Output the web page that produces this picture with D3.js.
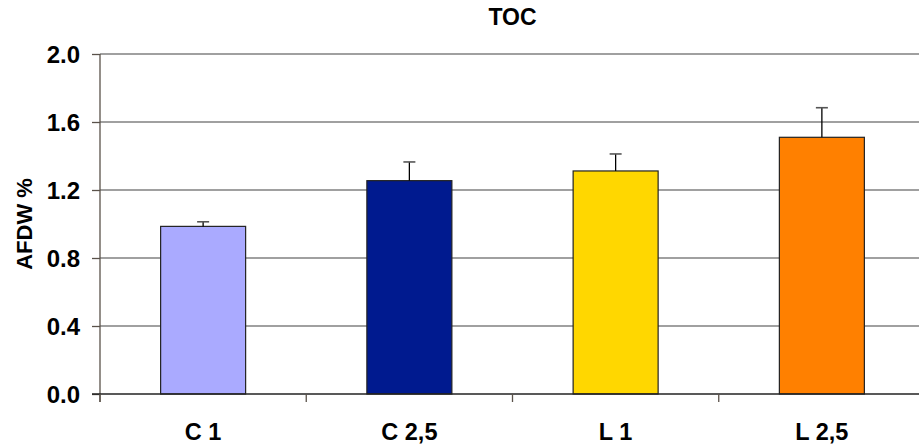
<!DOCTYPE html>
<html><head><meta charset="utf-8">
<script src="https://cdn.jsdelivr.net/npm/d3@7"></script>
<style>body{margin:0;background:#fff}svg{display:block}text{font-family:Arial,"Liberation Sans",sans-serif;font-weight:bold;fill:#000}</style>
</head><body><svg id="c" width="919" height="447"></svg>
<script>
const categories = ["C 1", "C 2,5", "L 1", "L 2,5"];
const values = [0.986, 1.255, 1.312, 1.51];
const errors = [0.027, 0.11, 0.10, 0.174];
const colors = ["#AAAAFF", "#001A8F", "#FFD700", "#FF8000"];
const yTicks = [0, 0.4, 0.8, 1.2, 1.6, 2.0];

const svg = d3.select("#c");
const m = {left: 100, right: 925, top: 54, bottom: 394};
const x = d3.scaleBand().domain(categories).range([m.left, m.right]).paddingInner(0).paddingOuter(0);
const y = d3.scaleLinear().domain([0, 2]).range([m.bottom, m.top]);

// gridlines
svg.append("g").selectAll("line").data(yTicks.filter(d => d > 0)).join("line")
  .attr("x1", m.left).attr("x2", m.right).attr("y1", d => y(d)).attr("y2", d => y(d))
  .attr("stroke", "#808080").attr("stroke-width", 1.3);

// y axis
const ya = svg.append("g").attr("transform", `translate(${m.left},0)`)
  .call(d3.axisLeft(y).tickValues(yTicks).tickFormat(d3.format(".1f")).tickSize(8).tickPadding(12));
ya.select(".domain").attr("stroke", "#5a524a").attr("stroke-width", 1.3).attr("d", `M0,${m.top}V${m.bottom + 8}`);
ya.selectAll(".tick line").attr("stroke", "#5a524a").attr("stroke-width", 1.3);
ya.selectAll(".tick text").style("font-size", "24px").attr("dy", "0.36em");

// bars
const bw = 85;
svg.append("g").selectAll("rect").data(categories).join("rect")
  .attr("x", d => x(d) + x.bandwidth() / 2 - bw / 2)
  .attr("width", bw)
  .attr("y", (d, i) => y(values[i]))
  .attr("height", (d, i) => y(0) - y(values[i]))
  .attr("fill", (d, i) => colors[i])
  .attr("stroke", "#222").attr("stroke-width", 1.2);

// error bars
const eb = svg.append("g");
categories.forEach((c, i) => {
  const cx = x(c) + x.bandwidth() / 2;
  eb.append("line").attr("x1", cx).attr("x2", cx).attr("y1", y(values[i])).attr("y2", y(values[i] + errors[i]))
    .attr("stroke", "#000").attr("stroke-width", 1.3);
  eb.append("line").attr("x1", cx - 6).attr("x2", cx + 6).attr("y1", y(values[i] + errors[i])).attr("y2", y(values[i] + errors[i]))
    .attr("stroke", "#555").attr("stroke-width", 1.6);
});

// x axis
const xa = svg.append("g").attr("transform", `translate(0,${m.bottom})`);
xa.append("line").attr("x1", m.left - 8).attr("x2", m.right).attr("stroke", "#222").attr("stroke-width", 1.3);
xa.selectAll("line.tk").data(d3.range(categories.length + 1)).join("line").attr("class", "tk")
  .attr("x1", i => m.left + i * x.bandwidth()).attr("x2", i => m.left + i * x.bandwidth())
  .attr("y1", 0).attr("y2", 8).attr("stroke", "#5a524a").attr("stroke-width", 1.3);
xa.selectAll("text").data(categories).join("text")
  .attr("x", d => x(d) + x.bandwidth() / 2).attr("y", 46)
  .attr("text-anchor", "middle").style("font-size", "23.5px").text(d => d);

// title
svg.append("text").attr("x", (m.left + m.right) / 2).attr("y", 25).attr("text-anchor", "middle")
  .style("font-size", "23px").text("TOC");

// y label
svg.append("text").attr("transform", `translate(32,${(m.top + m.bottom) / 2}) rotate(-90)`)
  .attr("text-anchor", "middle").style("font-size", "22px").text("AFDW %");
</script></body></html>
